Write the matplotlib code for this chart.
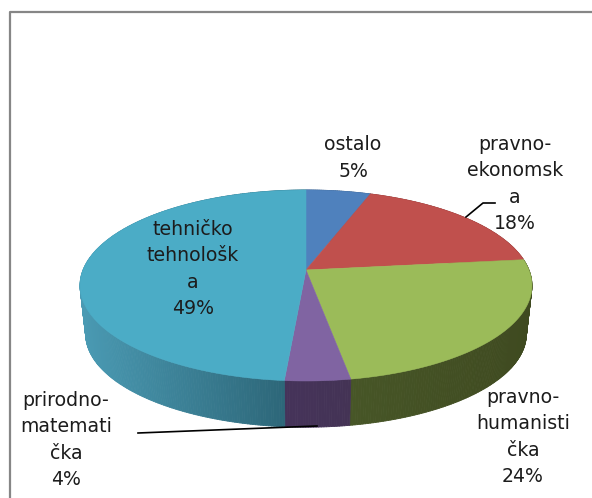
## imports
import numpy as np
from matplotlib import pyplot as plt
from matplotlib.collections import PolyCollection
from matplotlib.colors import to_rgb
from matplotlib.patches import Polygon


## data
categories = ['ostalo', 'pravno-\nekonomsk\na', 'pravno-\nhumanisti\nčka',
              'prirodno-\nmatemati\nčka', 'tehničko\ntehnološk\na']
shares = [5.4, 17.8, 24.1, 4.0, 48.7]
topColors = ['#4f81bd', '#c0504d', '#9bbb59', '#8064a2', '#4bacc6']
sideColorsLeft = ['#3e6089', '#8c3a38', '#475627', '#45335a', '#4a9ab3']
sideColorsRight = ['#3e6089', '#8c3a38', '#3f4a20', '#443355', '#2d6779']


## geometry of the tilted pie (pixels)
xCenter, yCenter = 306.0, 270.0
xRadius, yRadius = 223.0, 93.0
tilt = -0.162
depth = 49.0
bottomScale = 0.975


def rim(angleDeg, scale=1.0, drop=0.0):
    # angle runs clockwise from the top of the pie
    angle = np.radians(angleDeg)
    u, v = np.sin(angle), -np.cos(angle)
    den = 1 + tilt*v
    return xCenter + scale*xRadius*u/den, yCenter + drop + scale*yRadius*v/den


## figure in pixel coordinates
fig = plt.figure(figsize=(5.92, 4.98), dpi=100)
ax = fig.add_axes([0, 0, 1, 1], xlim=(0, 592), ylim=(498, 0))
ax.axis('off')
plt.rcParams['font.family'] = ['DejaVu Sans']

# chart frame, only left and top are in the crop
ax.plot([9.5, 9.5, 592], [498, 11.5, 11.5], color='#868686', linewidth=1.6)

# cumulative angles of the wedges
edges = np.cumsum([0] + shares)*3.6

# side wall, the top face hides its back part
for ind in range(len(shares)):
    angles = np.linspace(edges[ind], edges[ind + 1], int(shares[ind]*6) + 2)
    xTop, yTop = rim(angles)
    xBot, yBot = rim(angles, bottomScale, depth)
    quads = [[(xTop[j], yTop[j]), (xTop[j + 1], yTop[j + 1]),
              (xBot[j + 1], yBot[j + 1]), (xBot[j], yBot[j])] for j in range(len(angles) - 1)]
    left = np.array(to_rgb(sideColorsLeft[ind]))
    right = np.array(to_rgb(sideColorsRight[ind]))
    # horizontal gradient over the visible front of the wedge
    frontMask = np.cos(np.radians(angles)) < 0
    xFront = xTop[frontMask] if frontMask.any() else xTop
    frac = np.clip((xTop[:-1] - xFront.min())/max(np.ptp(xFront), 1), 0, 1)
    cols = left + (right - left)*frac[:, None]
    ax.add_collection(PolyCollection(quads, facecolors=cols, edgecolors=cols,
                                     linewidths=0.6, zorder=2))

# top face
for ind in range(len(shares)):
    angles = np.linspace(edges[ind], edges[ind + 1], int(shares[ind]*6) + 2)
    xTop, yTop = rim(angles)
    pts = np.column_stack((np.r_[xCenter, xTop], np.r_[yCenter, yTop]))
    ax.add_patch(Polygon(pts, closed=True, facecolor=topColors[ind], edgecolor=topColors[ind],
                         linewidth=0.4, zorder=3))

# leader lines
ax.plot([466, 483, 495], [217, 203, 203], color='black', linewidth=1.2, zorder=4)
ax.plot([138, 317], [433, 426], color='black', linewidth=1.2, zorder=4)

# data labels
labelX = [353, 515, 523, 66, 193]
labelY = [158, 184, 437, 440, 269]
for ind in range(len(shares)):
    ax.text(labelX[ind], labelY[ind], '%s\n%.0f%%' % (categories[ind], shares[ind]),
            ha='center', va='center', fontsize=13.6, color='#1c1c1c',
            linespacing=1.5, zorder=5)

fig.savefig('out.png', dpi=100)
